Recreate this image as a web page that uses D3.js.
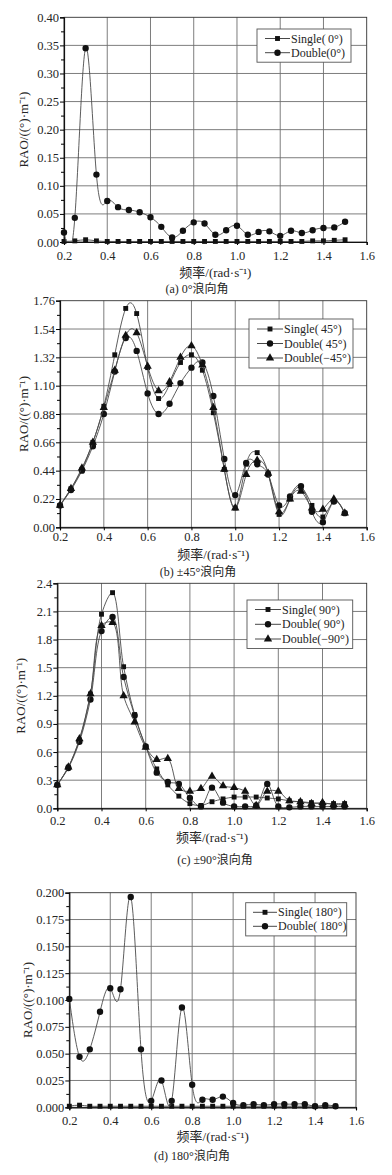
<!DOCTYPE html>
<html>
<head>
<meta charset="utf-8">
<script src="https://cdn.jsdelivr.net/npm/d3@7"></script>
<style>
  body { margin: 0; background: #fff; }
  svg { display: block; }
  text { font-family: "Liberation Serif", "Noto Sans CJK SC", serif; fill: #262626; }
</style>
</head>
<body>
<div id="chart"></div>
<script>
// frequency (rad/s)
const freq = [0.20, 0.25, 0.30, 0.35, 0.40, 0.45, 0.50, 0.55, 0.60, 0.65, 0.70, 0.75, 0.80, 0.85,
              0.90, 0.95, 1.00, 1.05, 1.10, 1.15, 1.20, 1.25, 1.30, 1.35, 1.40, 1.45, 1.50];
const xTicks = [0.2, 0.4, 0.6, 0.8, 1.0, 1.2, 1.4, 1.6];

// (a) 0 deg
const single0 = [0.001, 0.002, 0.004, 0.002, 0.001, 0.001, 0.001, 0.001, 0.001, 0.001, 0.001, 0.001, 0.001, 0.001,
                 0.001, 0.001, 0.001, 0.001, 0.001, 0.001, 0.001, 0.001, 0.001, 0.002, 0.002, 0.003, 0.004];
const double0 = [0.017, 0.043, 0.345, 0.120, 0.073, 0.062, 0.057, 0.053, 0.044, 0.027, 0.008, 0.020, 0.035, 0.033,
                 0.013, 0.021, 0.029, 0.013, 0.018, 0.019, 0.011, 0.020, 0.016, 0.021, 0.025, 0.026, 0.036];
const yTicksA = [0, 0.05, 0.10, 0.15, 0.20, 0.25, 0.30, 0.35, 0.40];

// (b) +-45 deg
const single45 = [0.17, 0.30, 0.45, 0.66, 0.94, 1.34, 1.70, 1.66, 1.24, 1.00, 1.11, 1.28, 1.34, 1.22,
                  0.89, 0.45, 0.15, 0.49, 0.58, 0.42, 0.10, 0.22, 0.31, 0.17, 0.08, 0.20, 0.11];
const double45 = [0.17, 0.29, 0.44, 0.63, 0.88, 1.21, 1.47, 1.37, 1.04, 0.88, 0.96, 1.12, 1.24, 1.28,
                  1.02, 0.53, 0.25, 0.50, 0.49, 0.41, 0.17, 0.24, 0.32, 0.12, 0.04, 0.20, 0.11];
const doubleNeg45 = [0.17, 0.30, 0.46, 0.66, 0.93, 1.22, 1.49, 1.51, 1.25, 1.06, 1.13, 1.32, 1.41, 1.26,
                     0.93, 0.45, 0.15, 0.41, 0.52, 0.42, 0.12, 0.22, 0.28, 0.15, 0.14, 0.22, 0.11];
const yTicksB = [0, 0.22, 0.44, 0.66, 0.88, 1.10, 1.32, 1.54, 1.76];

// (c) +-90 deg
const single90 = [0.25, 0.44, 0.73, 1.22, 2.07, 2.30, 1.51, 1.00, 0.66, 0.42, 0.25, 0.13, 0.05, 0.03,
                  0.07, 0.10, 0.12, 0.12, 0.12, 0.11, 0.10, 0.08, 0.07, 0.06, 0.05, 0.05, 0.05];
const double90 = [0.25, 0.43, 0.71, 1.16, 1.89, 2.04, 1.40, 0.99, 0.66, 0.38, 0.28, 0.26, 0.11, 0.02,
                  0.22, 0.06, 0.02, 0.02, 0.03, 0.26, 0.02, 0.01, 0.02, 0.02, 0.02, 0.02, 0.02];
const doubleNeg90 = [0.25, 0.44, 0.74, 1.22, 1.95, 1.98, 1.20, 0.92, 0.65, 0.52, 0.53, 0.21, 0.18, 0.21,
                     0.34, 0.24, 0.22, 0.18, 0.03, 0.18, 0.18, 0.08, 0.07, 0.05, 0.06, 0.04, 0.04];
const yTicksC = [0, 0.3, 0.6, 0.9, 1.2, 1.5, 1.8, 2.1, 2.4];

// (d) 180 deg
const single180 = [0.001, 0.002, 0.001, 0.001, 0.001, 0.001, 0.001, 0.001, 0.001, 0.001, 0.001, 0.001, 0.001, 0.001,
                   0.001, 0.001, 0.001, 0.001, 0.001, 0.001, 0.001, 0.001, 0.001, 0.001, 0.001, 0.001, 0.001];
const double180 = [0.101, 0.047, 0.054, 0.089, 0.111, 0.110, 0.196, 0.054, 0.006, 0.025, 0.006, 0.093, 0.021, 0.007,
                   0.007, 0.010, 0.004, 0.002, 0.003, 0.002, 0.003, 0.003, 0.003, 0.003, 0.001, 0.002, 0.001];
const yTicksD = [0, 0.025, 0.050, 0.075, 0.100, 0.125, 0.150, 0.175, 0.200];

const svg = d3.select("#chart").append("svg")
    .attr("width", 392)
    .attr("height", 1175);

const panels = [
    {
        id: "a", box: { l: 64, r: 366.7, t: 17.3, b: 242 }, yTicks: yTicksA, fmt: ".2f",
        series: [
            { name: "Single(\u20090°)", values: single0, sym: d3.symbolSquare },
            { name: "Double(0°)", values: double0, sym: d3.symbolCircle }
        ],
        curve: d3.curveNatural,
        yLabelX: 28, tickY: 260, titleY: 277, capY: 293, capX: 197, caption: "(a) 0°浪向角",
        legend: { x0: 257, x1: 351, y0: 29, rows: [38.5, 52.7], lx0: 265, lx1: 290 }
    },
    {
        id: "b", box: { l: 60, r: 366.7, t: 300.7, b: 527.3 }, yTicks: yTicksB, fmt: ".2f",
        series: [
            { name: "Single(\u200945°)", values: single45, sym: d3.symbolSquare },
            { name: "Double(\u200945°)", values: double45, sym: d3.symbolCircle },
            { name: "Double(−45°)", values: doubleNeg45, sym: d3.symbolTriangle }
        ],
        curve: d3.curveNatural,
        yLabelX: 28, tickY: 541, titleY: 559, capY: 576, capX: 198, caption: "(b) ±45°浪向角",
        legend: { x0: 249, x1: 353, y0: 319, rows: [329, 343.5, 358], lx0: 257, lx1: 283 }
    },
    {
        id: "c", box: { l: 57.3, r: 366.7, t: 583.3, b: 808.3 }, yTicks: yTicksC, fmt: ".1f",
        series: [
            { name: "Single(\u200990°)", values: single90, sym: d3.symbolSquare },
            { name: "Double(\u200990°)", values: double90, sym: d3.symbolCircle },
            { name: "Double(−90°)", values: doubleNeg90, sym: d3.symbolTriangle }
        ],
        curve: d3.curveCatmullRom.alpha(0.5),
        yLabelX: 25, tickY: 825, titleY: 842, capY: 864, capX: 215, caption: "(c) ±90°浪向角",
        legend: { x0: 247, x1: 352.7, y0: 600, rows: [609.5, 624.3, 639], lx0: 255, lx1: 281 }
    },
    {
        id: "d", box: { l: 69.3, r: 356, t: 892.7, b: 1107.3 }, yTicks: yTicksD, fmt: ".3f",
        series: [
            { name: "Single(\u2009180°)", values: single180, sym: d3.symbolSquare },
            { name: "Double(\u2009180°)", values: double180, sym: d3.symbolCircle }
        ],
        curve: d3.curveNatural,
        yLabelX: 32, tickY: 1125, titleY: 1141, capY: 1160, capX: 192, caption: "(d) 180°浪向角",
        legend: { x0: 245.7, x1: 346.7, y0: 902.7, rows: [912.3, 926.3], lx0: 253, lx1: 277 }
    }
];

const symSize = new Map([[d3.symbolSquare, 24], [d3.symbolCircle, 32], [d3.symbolTriangle, 30]]);

panels.forEach(p => {
    const { l, r, t, b } = p.box;
    const yMax = p.yTicks[p.yTicks.length - 1];
    const x = d3.scaleLinear().domain([0.2, 1.6]).range([l, r]);
    const y = d3.scaleLinear().domain([0, yMax]).range([b, t]);
    const g = svg.append("g").attr("class", "panel-" + p.id);

    // grid
    g.append("g").selectAll("line")
        .data(p.yTicks.slice(1, -1))
        .enter().append("line")
        .attr("x1", l).attr("x2", r)
        .attr("y1", d => y(d)).attr("y2", d => y(d))
        .attr("stroke", "#6e6e6e").attr("stroke-width", 0.9);
    g.append("g").selectAll("line")
        .data(xTicks.slice(1, -1))
        .enter().append("line")
        .attr("x1", d => x(d)).attr("x2", d => x(d))
        .attr("y1", t).attr("y2", b)
        .attr("stroke", "#6e6e6e").attr("stroke-width", 0.9);

    g.append("rect")
        .attr("x", l).attr("y", t)
        .attr("width", r - l).attr("height", b - t)
        .attr("fill", "none").attr("stroke", "#333").attr("stroke-width", 0.9);

    // axes
    const step = p.yTicks[1] - p.yTicks[0];
    const minor = p.yTicks.slice(0, -1).map(v => v + step / 2);
    g.append("g")
        .attr("transform", `translate(${l},0)`)
        .call(d3.axisLeft(y).tickValues(minor).tickSize(3).tickFormat(""))
        .call(a => a.select(".domain").remove());
    const yAxis = g.append("g")
        .attr("transform", `translate(${l},0)`)
        .call(d3.axisLeft(y).tickValues(p.yTicks).tickSize(4).tickPadding(1).tickFormat(d3.format(p.fmt)));
    const xAxis = g.append("g")
        .attr("transform", `translate(0,${b})`)
        .call(d3.axisBottom(x).tickValues(xTicks).tickSize(3).tickPadding(4).tickFormat(d3.format(".1f")));
    [yAxis, xAxis].forEach(a => {
        a.select(".domain").attr("stroke", "#111").attr("stroke-width", 1.2);
        a.selectAll("text").style("font-size", "12.5px").attr("fill", "#262626")
            .style("font-family", '"Liberation Serif", serif');
    });
    xAxis.selectAll("text").attr("y", null).attr("dy", null)
        .attr("transform", `translate(0,${p.tickY - b})`);

    // labels
    g.append("text")
        .attr("transform", `translate(${p.yLabelX},${(t + b) / 2}) rotate(-90)`)
        .attr("text-anchor", "middle")
        .style("font-size", "13px")
        .text("RAO/((°)·m⁻¹)");
    g.append("text")
        .attr("x", (l + r) / 2).attr("y", p.titleY)
        .attr("text-anchor", "middle")
        .style("font-size", "13px")
        .text("频率/(rad·s⁻¹)");
    g.append("text")
        .attr("x", p.capX).attr("y", p.capY)
        .attr("text-anchor", "middle")
        .style("font-size", "12px")
        .text(p.caption);

    // series
    const clipId = "clip-" + p.id;
    svg.append("clipPath").attr("id", clipId)
        .append("rect").attr("x", l).attr("y", t).attr("width", r - l).attr("height", b - t);

    const line = d3.line()
        .x((d, i) => x(freq[i]))
        .y(d => y(d))
        .curve(p.curve);

    p.series.forEach(s => {
        g.append("path")
            .datum(s.values)
            .attr("clip-path", `url(#${clipId})`)
            .attr("fill", "none")
            .attr("stroke", "#4a4a4a")
            .attr("stroke-width", 0.9)
            .attr("d", line);
        g.append("g").selectAll("path")
            .data(s.values)
            .enter().append("path")
            .attr("transform", (d, i) => `translate(${x(freq[i])},${y(d)})`)
            .attr("d", d3.symbol().type(s.sym).size(symSize.get(s.sym)))
            .attr("fill", "#111");
    });

    // legend
    const lg = p.legend;
    g.append("rect")
        .attr("x", lg.x0).attr("y", lg.y0)
        .attr("width", lg.x1 - lg.x0)
        .attr("height", lg.rows[lg.rows.length - 1] - lg.y0 + (lg.rows[0] - lg.y0))
        .attr("fill", "#fff").attr("stroke", "#555").attr("stroke-width", 0.9);
    p.series.forEach((s, i) => {
        const ry = lg.rows[i];
        g.append("line")
            .attr("x1", lg.lx0).attr("x2", lg.lx1)
            .attr("y1", ry).attr("y2", ry)
            .attr("stroke", "#333").attr("stroke-width", 0.9);
        g.append("path")
            .attr("transform", `translate(${(lg.lx0 + lg.lx1) / 2},${ry})`)
            .attr("d", d3.symbol().type(s.sym).size(symSize.get(s.sym)))
            .attr("fill", "#111");
        g.append("text")
            .attr("x", lg.lx1 + 1).attr("y", ry + 4)
            .style("font-size", "12px")
            .text(s.name);
    });
});
</script>
</body>
</html>
